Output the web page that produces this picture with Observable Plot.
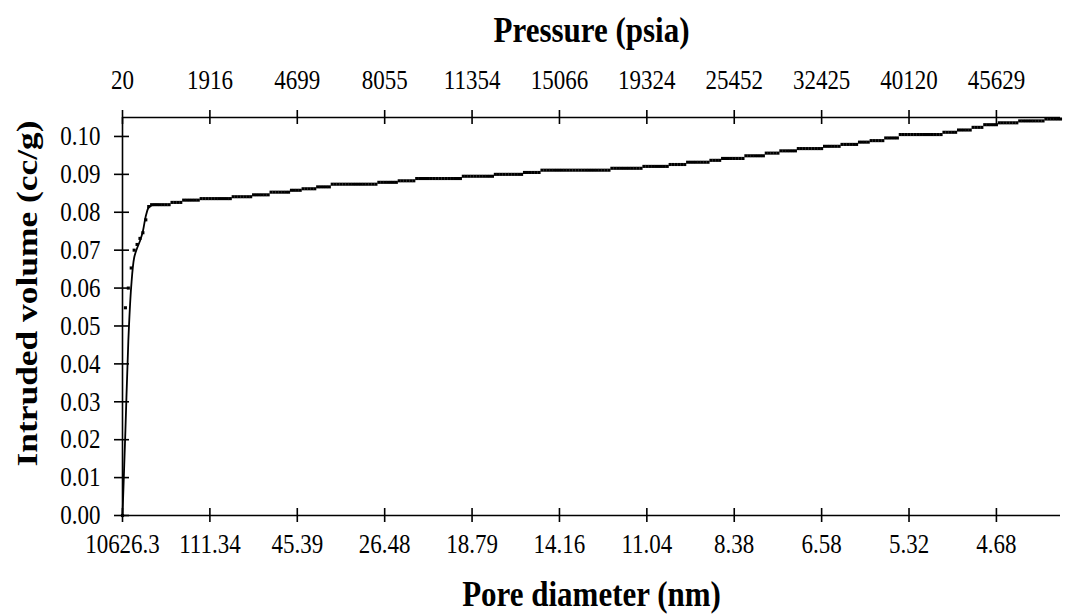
<!DOCTYPE html>
<html><head><meta charset="utf-8">
<script src="https://cdn.jsdelivr.net/npm/d3@7"></script>
<script src="https://cdn.jsdelivr.net/npm/@observablehq/plot@0.6"></script>
<style>
body{margin:0;background:#fff}
svg{display:block}
svg, svg text{font-family:"Liberation Serif","Times New Roman",serif !important;}
.tall{transform-box:fill-box;transform-origin:center;transform:scaleY(1.18);}
</style>
</head><body><div id="chart"></div>
<script>
// Intruded volume (cc/g) for each measurement point, in order of increasing pressure
const volume = [
  0, 0.0548, 0.0600, 0.0653, 0.0700, 0.0715, 0.0731, 0.0746, 0.0780, 0.0815,
  0.0820, 0.0820, 0.0820, 0.0820, 0.0820, 0.0820, 0.0820,
  0.0826, 0.0826, 0.0826, 0.0826,
  0.0832, 0.0832, 0.0832, 0.0832, 0.0832, 0.0832,
  0.0836, 0.0836, 0.0836, 0.0836, 0.0836, 0.0836, 0.0836, 0.0836, 0.0836, 0.0836, 0.0836,
  0.0841, 0.0841, 0.0841, 0.0841, 0.0841, 0.0841, 0.0841,
  0.0846, 0.0846, 0.0846, 0.0846, 0.0846, 0.0846,
  0.0853, 0.0853, 0.0853, 0.0853, 0.0853, 0.0853, 0.0853,
  0.0858, 0.0858, 0.0858, 0.0858,
  0.0862, 0.0862, 0.0862, 0.0862, 0.0862,
  0.0867, 0.0867, 0.0867, 0.0867, 0.0867,
  0.0874, 0.0874, 0.0874, 0.0874, 0.0874, 0.0874, 0.0874, 0.0874, 0.0874, 0.0874, 0.0874, 0.0874, 0.0874, 0.0874, 0.0874, 0.0874,
  0.0879, 0.0879, 0.0879, 0.0879, 0.0879, 0.0879, 0.0879,
  0.0883, 0.0883, 0.0883, 0.0883, 0.0883, 0.0883,
  0.0889, 0.0889, 0.0889, 0.0889, 0.0889, 0.0889, 0.0889, 0.0889, 0.0889, 0.0889, 0.0889, 0.0889, 0.0889, 0.0889, 0.0889, 0.0889,
  0.0895, 0.0895, 0.0895, 0.0895, 0.0895, 0.0895, 0.0895, 0.0895, 0.0895, 0.0895, 0.0895,
  0.0900, 0.0900, 0.0900, 0.0900, 0.0900, 0.0900, 0.0900, 0.0900, 0.0900, 0.0900,
  0.0905, 0.0905, 0.0905, 0.0905, 0.0905, 0.0905,
  0.0911, 0.0911, 0.0911, 0.0911, 0.0911, 0.0911, 0.0911, 0.0911, 0.0911, 0.0911, 0.0911, 0.0911,
  0.0911, 0.0911, 0.0911, 0.0911, 0.0911, 0.0911, 0.0911, 0.0911, 0.0911, 0.0911, 0.0911, 0.0911,
  0.0916, 0.0916, 0.0916, 0.0916, 0.0916, 0.0916, 0.0916, 0.0916, 0.0916, 0.0916, 0.0916,
  0.0921, 0.0921, 0.0921, 0.0921, 0.0921, 0.0921, 0.0921, 0.0921, 0.0921,
  0.0926, 0.0926, 0.0926, 0.0926, 0.0926, 0.0926,
  0.0932, 0.0932, 0.0932, 0.0932, 0.0932, 0.0932, 0.0932, 0.0932,
  0.0937, 0.0937, 0.0937, 0.0937,
  0.0942, 0.0942, 0.0942, 0.0942, 0.0942, 0.0942, 0.0942, 0.0942,
  0.0949, 0.0949, 0.0949, 0.0949, 0.0949, 0.0949, 0.0949,
  0.0956, 0.0956, 0.0956, 0.0956, 0.0956,
  0.0962, 0.0962, 0.0962, 0.0962, 0.0962, 0.0962,
  0.0968, 0.0968, 0.0968, 0.0968, 0.0968, 0.0968, 0.0968, 0.0968, 0.0968,
  0.0974, 0.0974, 0.0974, 0.0974, 0.0974, 0.0974,
  0.0979, 0.0979, 0.0979, 0.0979, 0.0979, 0.0979,
  0.0985, 0.0985, 0.0985, 0.0985,
  0.0989, 0.0989, 0.0989, 0.0989, 0.0989,
  0.0996, 0.0996, 0.0996, 0.0996, 0.0996,
  0.1005, 0.1005, 0.1005, 0.1005, 0.1005, 0.1005, 0.1005, 0.1005, 0.1005, 0.1005, 0.1005, 0.1005, 0.1005, 0.1005, 0.1005,
  0.1011, 0.1011, 0.1011, 0.1011, 0.1011,
  0.1017, 0.1017, 0.1017, 0.1017, 0.1017,
  0.1024, 0.1024, 0.1024, 0.1024,
  0.1031, 0.1031, 0.1031, 0.1031, 0.1031,
  0.1036, 0.1036, 0.1036, 0.1036, 0.1036, 0.1036, 0.1036,
  0.1041, 0.1041, 0.1041, 0.1041, 0.1041, 0.1041, 0.1041, 0.1041, 0.1041,
  0.1046, 0.1046, 0.1046, 0.1046, 0.1046, 0.1046
];
// the smoothed line over the first points (below the markers afterwards)
const lineHead = [0, 0.0224, 0.0460, 0.0605, 0.0680, 0.0705, 0.0724, 0.0750, 0.0790, 0.0813, 0.0818, 0.0820, 0.0820];

const pressureLabels = ["20", "1916", "4699", "8055", "11354", "15066", "19324", "25452", "32425", "40120", "45629"];
const diameterLabels = ["10626.3", "111.34", "45.39", "26.48", "18.79", "14.16", "11.04", "8.38", "6.58", "5.32", "4.68"];
const yTicks = [0, 0.01, 0.02, 0.03, 0.04, 0.05, 0.06, 0.07, 0.08, 0.09, 0.10];
const labelEvery = 30; // one category label every 30 points
const yMax = 0.105;

const points = volume.map((v, i) => ({i, v}));
const linePts = lineHead.map((v, i) => ({i, v}));
const tickIdx = pressureLabels.map((_, k) => k * labelEvery);

const font = "Liberation Serif, Times New Roman, serif";
const axisW = 1.6;

const chart = Plot.plot({
  width: 1066, height: 616,
  marginLeft: 122, marginRight: 6, marginTop: 117, marginBottom: 101,
  style: {fontFamily: font, fontSize: "23px", color: "#000", background: "#fff"},
  x: {domain: [0, volume.length - 1]},
  y: {domain: [0, yMax]},
  marks: [
    Plot.axisY(yTicks, {tickSize: 0, tickPadding: 22, tickFormat: d3.format(".2f"), label: null, fontSize: 23}),
    Plot.axisX(tickIdx, {anchor: "bottom", tickSize: 0, tickPadding: 20, tickFormat: d => diameterLabels[d / labelEvery], label: null, fontSize: 23}),
    Plot.axisX(tickIdx, {anchor: "top", tickSize: 0, tickPadding: 30, tickFormat: d => pressureLabels[d / labelEvery], label: null, fontSize: 23}),
    // axis lines
    Plot.ruleX([0], {strokeWidth: axisW}),
    Plot.ruleY([0], {strokeWidth: axisW}),
    Plot.ruleY([yMax], {strokeWidth: axisW}),
    // cross tick marks
    Plot.ruleY(yTicks, {x1: 0, x2: 0, insetLeft: -8, insetRight: -7, strokeWidth: axisW}),
    Plot.ruleX(tickIdx, {y1: 0, y2: 0, insetTop: -7, insetBottom: -7, strokeWidth: axisW}),
    Plot.ruleX(tickIdx, {y1: yMax, y2: yMax, insetTop: -7, insetBottom: -7, strokeWidth: axisW}),
    // data
    Plot.line(linePts, {x: "i", y: "v", curve: "catmull-rom", stroke: "black", strokeWidth: 1.8}),
    Plot.dot(points, {x: "i", y: "v", symbol: "square", r: 1.75, fill: "black", stroke: "none"}),
    // titles
    Plot.text(["Pressure (psia)"], {frameAnchor: "top", dy: -87, fontWeight: "bold", fontSize: 31, lineAnchor: "middle"}),
    Plot.text(["Pore diameter (nm)"], {frameAnchor: "bottom", dy: 79, fontWeight: "bold", fontSize: 31, lineAnchor: "middle"}),
    Plot.text(["Intruded volume (cc/g)"], {frameAnchor: "left", dx: -95, dy: -23, rotate: -90, textAnchor: "middle", fontWeight: "bold", fontSize: 30, lineAnchor: "middle"})
  ]
});
// the reference lettering is drawn taller than it is wide: stretch every text vertically about its centre
const svgNS = "http://www.w3.org/2000/svg";
chart.querySelectorAll("text").forEach(t => {
  const g = document.createElementNS(svgNS, "g");
  g.setAttribute("class", "tall");
  t.replaceWith(g);
  g.appendChild(t);
});
document.getElementById("chart").append(chart);
</script>
</body></html>
